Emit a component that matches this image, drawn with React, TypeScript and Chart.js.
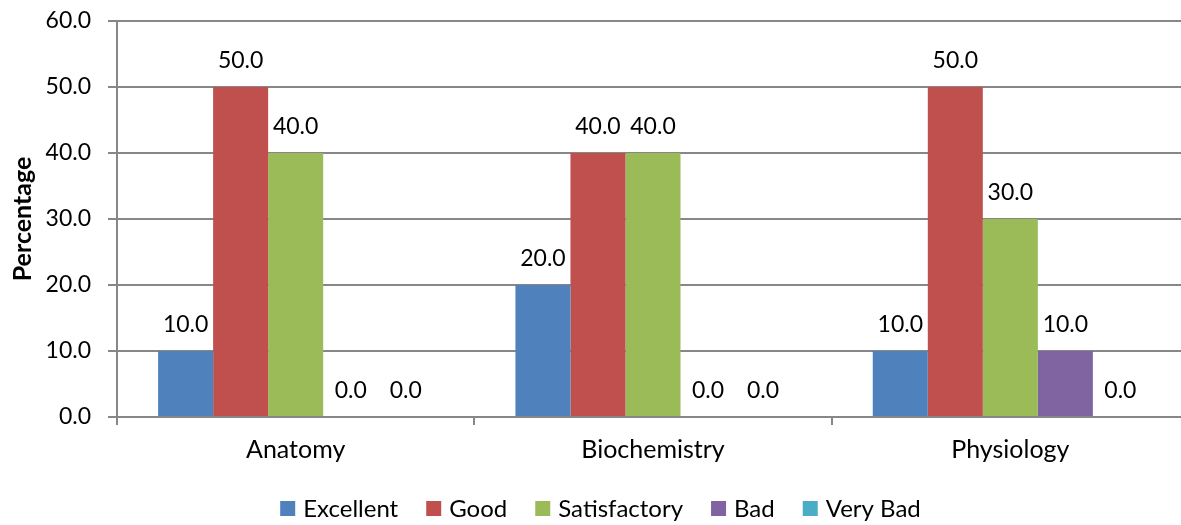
import React, { useEffect, useRef } from "react";
import { Chart, registerables } from "chart.js";

Chart.register(...registerables);

const categories = ["Anatomy", "Biochemistry", "Physiology"];
const seriesNames = ["Excellent", "Good", "Satisfactory", "Bad", "Very Bad"];
const excellent = [10.0, 20.0, 10.0];
const good = [50.0, 40.0, 50.0];
const satisfactory = [40.0, 40.0, 30.0];
const bad = [0.0, 0.0, 10.0];
const veryBad = [0.0, 0.0, 0.0];
const seriesColors = ["#4F81BD", "#C0504D", "#9BBB59", "#8064A2", "#4BACC6"];
const yTicks = [0, 10, 20, 30, 40, 50, 60];

const FONT = "Lato, 'Open Sans', sans-serif";
const GRID = "#878787";

const valueLabels = {
  id: "valueLabels",
  afterDatasetsDraw(chart: any) {
    const ctx = chart.ctx;
    ctx.save();
    ctx.font = `23px ${FONT}`;
    ctx.fillStyle = "#000";
    ctx.textAlign = "center";
    ctx.textBaseline = "middle";
    chart.data.datasets.forEach((ds: any, i: number) => {
      const meta = chart.getDatasetMeta(i);
      meta.data.forEach((bar: any, j: number) => {
        const v = ds.data[j] as number;
        ctx.fillText(v.toFixed(1), bar.x, bar.y - 26);
      });
    });
    ctx.restore();
  },
};

const customLegend = {
  id: "customLegend",
  afterDraw(chart: any) {
    const ctx = chart.ctx;
    ctx.save();
    ctx.font = `24px ${FONT}`;
    ctx.textBaseline = "middle";
    ctx.textAlign = "left";
    const box = 15;
    const gap = 8;
    const itemGap = 28;
    const items = chart.data.datasets.map((ds: any) => ({
      label: ds.label,
      color: ds.backgroundColor,
      w: box + gap + ctx.measureText(ds.label).width,
    }));
    const total =
      items.reduce((s: number, it: any) => s + it.w, 0) + itemGap * (items.length - 1);
    let x = 590.5 - total / 2;
    const cy = chart.height - 16.5;
    items.forEach((it: any) => {
      ctx.fillStyle = it.color;
      ctx.fillRect(x, cy - box / 2, box, box);
      ctx.fillStyle = "#000";
      ctx.fillText(it.label, x + box + gap, cy + 1);
      x += it.w + itemGap;
    });
    ctx.restore();
  },
};

export default function App() {
  const ref = useRef<HTMLCanvasElement>(null);
  useEffect(() => {
    if (!ref.current) return;
    const seriesData = [excellent, good, satisfactory, bad, veryBad];
    const chart = new Chart(ref.current, {
      type: "bar",
      data: {
        labels: categories,
        datasets: seriesNames.map((name, i) => ({
          label: name,
          data: seriesData[i],
          backgroundColor: seriesColors[i],
          borderWidth: 0,
          categoryPercentage: 0.77,
          barPercentage: 1,
        })),
      },
      options: {
        animation: false,
        responsive: false,
        devicePixelRatio: 1,
        layout: { padding: { top: 21, right: 11, left: 0, bottom: 0 } },
        plugins: {
          legend: { display: false },
          tooltip: { enabled: false },
        },
        scales: {
          x: {
            afterFit: (s: any) => {
              s.height = 108;
            },
            grid: {
              offset: true,
              drawOnChartArea: false,
              drawTicks: true,
              tickLength: 8,
              color: GRID,
              lineWidth: 2,
            },
            border: { color: GRID, width: 2 },
            ticks: { color: "#000", font: { family: FONT, size: 25 }, padding: 10 },
          },
          y: {
            min: 0,
            max: 60,
            afterFit: (s: any) => {
              s.width = 107;
              s.paddingTop = 0;
              s.paddingBottom = 0;
            },
            afterBuildTicks: (s: any) => {
              s.ticks = yTicks.map((v) => ({ value: v }));
            },
            grid: { color: GRID, lineWidth: 2, tickLength: 9 },
            border: { color: GRID, width: 2 },
            ticks: {
              color: "#000",
              font: { family: FONT, size: 23 },
              padding: 17,
              callback: (v: any) => Number(v).toFixed(1),
            },
            title: {
              display: true,
              text: "Percentage",
              color: "#000",
              font: { family: FONT, size: 25, weight: "bold" },
              padding: { top: -2, bottom: 0 },
            },
          },
        },
      },
      plugins: [valueLabels, customLegend],
    });
    return () => chart.destroy();
  }, []);
  return (
    <div
      style={{
        position: "absolute",
        left: 0,
        top: 0,
        width: 1181,
        height: 525,
        overflow: "hidden",
        background: "#fff",
      }}
    >
      <canvas
        ref={ref}
        width={1190}
        height={525}
        style={{ position: "absolute", left: 10, top: 0, width: 1190, height: 525 }}
      />
    </div>
  );
}
